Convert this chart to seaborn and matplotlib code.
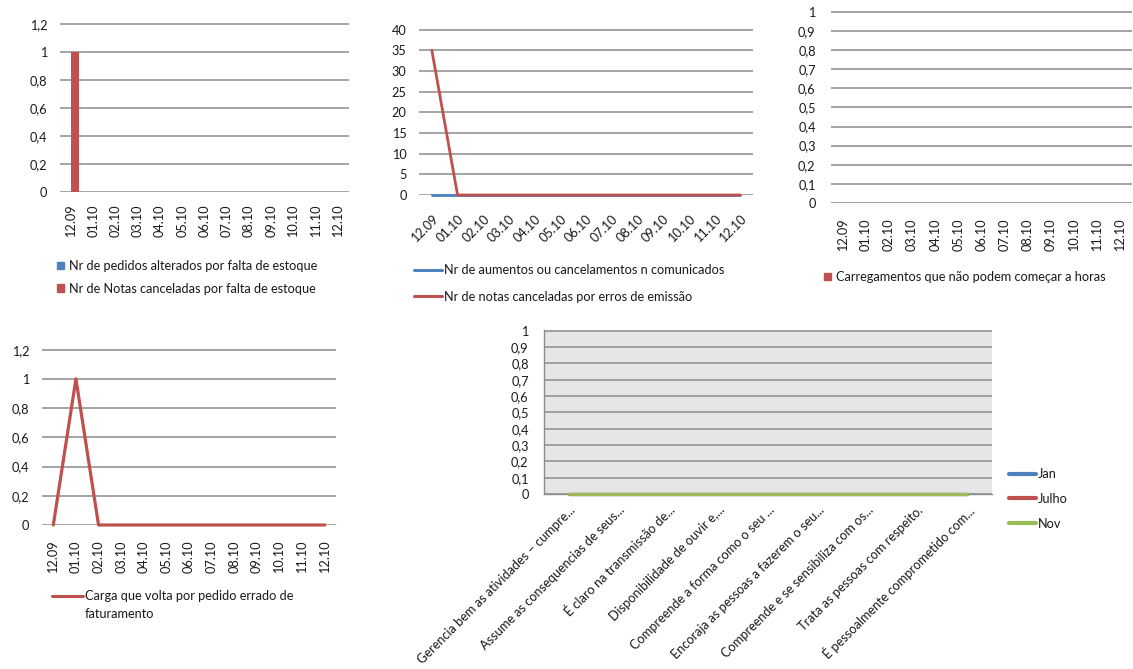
import matplotlib
matplotlib.use("Agg")
import matplotlib.pyplot as plt
import seaborn as sns
import pandas as pd
import numpy as np
from matplotlib.patches import Patch
from matplotlib.lines import Line2D
from matplotlib.ticker import FixedLocator, FuncFormatter

# ---------------------------------------------------------------- data
meses = ["12.09", "01.10", "02.10", "03.10", "04.10", "05.10", "06.10",
         "07.10", "08.10", "09.10", "10.10", "11.10", "12.10"]

pedidos_alterados_estoque = [0, 0, 0, 0, 0, 0, 0, 0, 0, 0, 0, 0, 0]
notas_canceladas_estoque = [1, 0, 0, 0, 0, 0, 0, 0, 0, 0, 0, 0, 0]

aumentos_nao_comunicados = [0, 0, 0, 0, 0, 0, 0, 0, 0, 0, 0, 0, 0]
notas_canceladas_emissao = [35, 0, 0, 0, 0, 0, 0, 0, 0, 0, 0, 0, 0]

carregamentos_atrasados = [0, 0, 0, 0, 0, 0, 0, 0, 0, 0, 0, 0, 0]

carga_volta_faturamento = [0, 1, 0, 0, 0, 0, 0, 0, 0, 0, 0, 0, 0]

competencias = [
    "Gerencia bem as atividades – cumpre...",
    "Assume as consequencias de seus...",
    "É claro na transmissão de...",
    "Disponibilidade de ouvir e,...",
    "Compreende a forma como o seu ...",
    "Encoraja as pessoas a fazerem o seu...",
    "Compreende e se sensibiliza com os...",
    "Trata as pessoas com respeito.",
    "É pessoalmente comprometido com...",
]
avaliacao_jan = [0, 0, 0, 0, 0, 0, 0, 0, 0]
avaliacao_julho = [0, 0, 0, 0, 0, 0, 0, 0, 0]
avaliacao_nov = [0, 0, 0, 0, 0, 0, 0, 0, 0]

# ---------------------------------------------------------------- style
AZUL, VERMELHO, VERDE = "#4F81BD", "#C0504D", "#9BBB59"
GRADE = "#8C8C8C"
TEXTO = "#1a1a1a"
FS = 9.2

sns.set_theme(style="white")
plt.rcParams["font.family"] = ["Lato", "DejaVu Sans"]
plt.rcParams["font.size"] = FS
plt.rcParams["text.color"] = TEXTO
plt.rcParams["xtick.color"] = TEXTO
plt.rcParams["ytick.color"] = TEXTO

W, H = 1133, 669
fig = plt.figure(figsize=(W / 100, H / 100), dpi=100)
fig.patch.set_facecolor("white")


def caixa(esq, dir_, topo, base):
    return [esq / W, 1 - base / H, (dir_ - esq) / W, (base - topo) / H]


def virgula(v, _pos=None):
    return f"{round(v, 3):g}".replace(".", ",")


def eixo_valores(ax, ymax, passo):
    marcas = np.round(np.arange(0, ymax + passo / 2, passo), 3)
    ax.set_ylim(0, ymax * 1.004)
    ax.yaxis.set_major_locator(FixedLocator(marcas))
    ax.yaxis.set_major_formatter(FuncFormatter(virgula))
    ax.grid(axis="y", color=GRADE, lw=1.1)
    ax.grid(axis="x", visible=False)
    ax.set_axisbelow(True)
    ax.set_xlabel("")
    ax.set_ylabel("")
    sns.despine(ax=ax, left=True, bottom=True, top=True, right=True)
    ax.tick_params(axis="y", length=0, pad=9, labelsize=FS)


def meses_eixo(ax, rot, pad):
    ax.set_xlim(-0.5, len(meses) - 0.5)
    ax.set_xticks(range(len(meses)))
    if rot == 90:
        ax.set_xticklabels(meses, rotation=90, va="top", ha="center")
    else:
        ax.set_xticklabels(meses, rotation=45, ha="right", va="top",
                           rotation_mode="anchor")
    ax.tick_params(axis="x", length=0, pad=pad, labelsize=FS)


def longo(rotulos, series):
    linhas = []
    for nome, valores in series.items():
        for i, (r, v) in enumerate(zip(rotulos, valores)):
            linhas.append({"pos": i, "cat": r, "serie": nome, "valor": v})
    return pd.DataFrame(linhas)


def legenda(handles, labels, x, y, **kw):
    opts = dict(loc="upper left", bbox_to_anchor=(x / W, 1 - y / H),
                frameon=False, borderpad=0, borderaxespad=0, fontsize=FS)
    opts.update(kw)
    return fig.legend(handles=handles, labels=labels, **opts)


# ------------------------------------------------ 1: estoque (colunas)
ax1 = fig.add_axes(caixa(60, 349, 23, 192))
s1 = {"Nr de pedidos alterados por falta de estoque": pedidos_alterados_estoque,
      "Nr de Notas canceladas por falta de estoque": notas_canceladas_estoque}
df1 = longo(meses, s1)
sns.barplot(data=df1, x="cat", y="valor", hue="serie", order=meses,
            hue_order=list(s1), palette=[AZUL, VERMELHO], width=0.72,
            saturation=1, linewidth=0, legend=False, ax=ax1)
eixo_valores(ax1, 1.2, 0.2)
meses_eixo(ax1, 90, 9)
legenda([Patch(color=AZUL), Patch(color=VERMELHO)], list(s1), 57, 260,
        handlelength=0.55, handleheight=0.55, handletextpad=0.4,
        labelspacing=0.85)

# ------------------------------------------------ 2: emissão (linhas)
ax2 = fig.add_axes(caixa(419, 753, 29, 195))
s2 = {"Nr de aumentos ou cancelamentos n comunicados": aumentos_nao_comunicados,
      "Nr de notas canceladas por erros de emissão": notas_canceladas_emissao}
df2 = longo(meses, s2)
sns.lineplot(data=df2, x="pos", y="valor", hue="serie", hue_order=list(s2),
             palette=[AZUL, VERMELHO], lw=2.0, legend=False, ax=ax2,
             clip_on=False, zorder=3)
eixo_valores(ax2, 40, 5)
meses_eixo(ax2, 45, 13)
legenda([Line2D([], [], color=AZUL, lw=2.2),
         Line2D([], [], color=VERMELHO, lw=2.2)], list(s2), 414, 264,
        handlelength=2.2, handletextpad=0.15, labelspacing=1.15)

# ------------------------------------------------ 3: carregamentos
ax3 = fig.add_axes(caixa(831, 1132, 11, 203))
s3 = {"Carregamentos que não podem começar a horas": carregamentos_atrasados}
df3 = longo(meses, s3)
sns.barplot(data=df3, x="cat", y="valor", order=meses, color=VERMELHO,
            saturation=1, linewidth=0, width=0.5, ax=ax3)
eixo_valores(ax3, 1.0, 0.1)
ax3.tick_params(axis="y", pad=11)
meses_eixo(ax3, 90, 11)
legenda([Patch(color=VERMELHO)], list(s3), 824, 271,
        handlelength=0.55, handleheight=0.55, handletextpad=0.4)

# ------------------------------------------------ 4: carga que volta
ax4 = fig.add_axes(caixa(42, 336, 349, 525))
s4 = {"Carga que volta por pedido errado de": carga_volta_faturamento}
df4 = longo(meses, s4)
sns.lineplot(data=df4, x="pos", y="valor", color=VERMELHO, lw=2.3,
             ax=ax4, clip_on=False, zorder=3)
eixo_valores(ax4, 1.2, 0.2)
meses_eixo(ax4, 90, 11)
legenda([Line2D([], [], color=VERMELHO, lw=2.2)], list(s4), 52, 590,
        handlelength=2.4, handletextpad=0.15)
fig.text(85 / W, 1 - 614 / H, "faturamento", fontsize=FS, va="center",
         ha="left")

# ------------------------------------------------ 5: avaliação (linhas)
ax5 = fig.add_axes(caixa(544, 992, 330, 494))
ax5.set_facecolor("#E6E6E6")
s5 = {"Jan": avaliacao_jan, "Julho": avaliacao_julho, "Nov": avaliacao_nov}
df5 = longo(competencias, s5)
sns.lineplot(data=df5, x="pos", y="valor", hue="serie", hue_order=list(s5),
             palette=[AZUL, VERMELHO, VERDE], lw=2.3, legend=False, ax=ax5,
             clip_on=False, zorder=3)
eixo_valores(ax5, 1.0, 0.1)
ax5.set_xlim(-0.5, len(competencias) - 0.5)
ax5.set_xticks(range(len(competencias)))
ax5.set_xticklabels(competencias, rotation=45, ha="right", va="top",
                    rotation_mode="anchor")
ax5.set_xticks(np.arange(-0.5, len(competencias)), minor=True)
ax5.tick_params(axis="x", which="major", length=0, pad=7, labelsize=FS)
ax5.tick_params(axis="x", which="minor", length=5, width=1, color=GRADE,
                direction="out")
for lado in ("left", "bottom"):
    ax5.spines[lado].set_visible(True)
    ax5.spines[lado].set_color(GRADE)
    ax5.spines[lado].set_linewidth(1)
ax5.tick_params(axis="y", length=4, width=1, color=GRADE, direction="out",
                pad=7)
legenda([Line2D([], [], color=c, lw=3, solid_capstyle="round")
         for c in (AZUL, VERMELHO, VERDE)], list(s5), 1009, 468,
        handlelength=2.1, handletextpad=0.15, labelspacing=1.0)

fig.savefig("out.png", dpi=100, facecolor="white")
